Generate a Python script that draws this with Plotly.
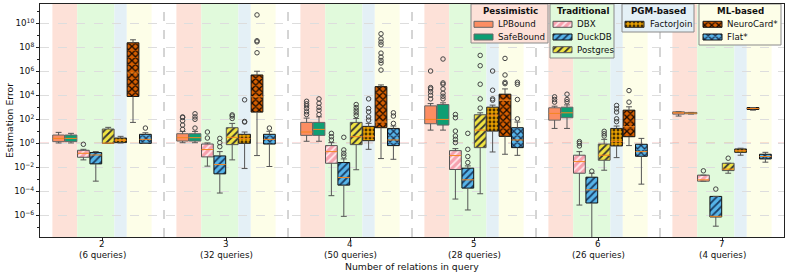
import plotly.graph_objects as go

# ---------------- data (values are log10 of the estimation error) ----------------
GROUPS = [2, 3, 4, 5, 6, 7]
QUERIES = [6, 32, 50, 28, 26, 4]
METHODS = ["LPBound", "SafeBound", "DBX", "DuckDB", "Postgres", "FactorJoin", "NeuroCard*", "Flat*"]
LEGEND_GROUPS = [("Pessimistic", ["LPBound", "SafeBound"]),
                 ("Traditional", ["DBX", "DuckDB", "Postgres"]),
                 ("PGM-based", ["FactorJoin"]),
                 ("ML-based", ["NeuroCard*", "Flat*"])]

LO = {
    "LPBound":    [0.03, 0.05, 0.17, 1.10, 1.24, 2.27],
    "SafeBound":  [0.03, 0.05, 0.17, 1.10, 1.24, 2.44],
    "DBX":        [-1.38, -1.90, -4.36, -4.64, -5.14, -3.15],
    "DuckDB":     [-3.15, -4.14, -6.08, -5.55, -8.40, -6.90],
    "Postgres":   [0.00, -1.38, -2.20, -4.20, -2.24, -2.49],
    "FactorJoin": [0.03, -2.10, -0.50, -0.72, -1.19, -0.99],
    "NeuroCard*": [1.74, -1.02, -1.27, -0.91, -0.19, 2.76],
    "Flat*":      [0.00, -1.93, -1.33, -1.00, -3.40, -1.57],
}
Q1 = {
    "LPBound":    [0.14, 0.19, 0.66, 1.63, 1.93, 2.43],
    "SafeBound":  [0.14, 0.19, 0.66, 1.52, 2.13, 2.46],
    "DBX":        [-1.16, -1.13, -1.66, -2.18, -2.49, -3.15],
    "DuckDB":     [-1.71, -2.54, -3.48, -3.73, -4.97, -6.13],
    "Postgres":   [0.00, -0.11, -0.11, -0.36, -1.41, -2.27],
    "FactorJoin": [0.06, 0.00, 0.22, 1.02, -0.22, -0.75],
    "NeuroCard*": [3.90, 2.60, 1.30, 0.58, 0.55, 2.82],
    "Flat*":      [0.00, -0.06, -0.19, -0.36, -1.08, -1.30],
}
MED = {
    "LPBound":    [0.41, 0.47, 0.94, 1.99, 2.49, 2.54],
    "SafeBound":  [0.41, 0.47, 1.16, 1.99, 2.54, 2.51],
    "DBX":        [-0.83, -0.52, -0.69, -1.02, -1.52, -3.04],
    "DuckDB":     [-0.97, -1.77, -2.85, -3.04, -3.87, -6.08],
    "Postgres":   [0.02, 0.50, 0.55, 1.10, -0.99, -2.15],
    "FactorJoin": [0.25, 0.41, 0.55, 2.35, 0.14, -0.61],
    "NeuroCard*": [5.86, 3.87, 1.77, 3.59, 1.38, 2.90],
    "Flat*":      [0.33, 0.33, 0.28, 0.28, -0.69, -1.10],
}
Q3 = {
    "LPBound":    [0.69, 0.80, 1.74, 3.12, 2.96, 2.62],
    "SafeBound":  [0.69, 0.80, 1.74, 3.23, 3.01, 2.57],
    "DBX":        [-0.58, -0.06, -0.19, -0.61, -0.99, -2.65],
    "DuckDB":     [-0.77, -1.05, -1.60, -2.07, -2.82, -4.42],
    "Postgres":   [1.19, 1.30, 1.74, 2.38, -0.06, -1.66],
    "FactorJoin": [0.44, 0.75, 1.41, 3.01, 1.24, -0.47],
    "NeuroCard*": [8.37, 5.69, 4.72, 4.09, 2.76, 2.98],
    "Flat*":      [0.75, 0.75, 1.24, 1.30, -0.08, -0.91],
}
HI = {
    "LPBound":    [0.91, 0.99, 2.10, 3.31, 3.09, 2.62],
    "SafeBound":  [0.83, 0.99, 2.20, 3.37, 3.20, 2.57],
    "DBX":        [-0.50, 0.03, 0.06, -0.44, -0.69, -2.65],
    "DuckDB":     [-0.69, -0.69, -1.30, -1.88, -2.49, -4.42],
    "Postgres":   [1.33, 1.66, 2.07, 2.54, 0.33, -1.66],
    "FactorJoin": [0.58, 0.94, 1.66, 3.18, 1.44, -0.41],
    "NeuroCard*": [8.62, 6.00, 4.86, 4.53, 3.04, 2.98],
    "Flat*":      [0.88, 1.00, 1.44, 1.77, 0.41, -0.75],
}
OUT = {
    "LPBound":    [[], [1.16, 1.52, 1.88, 2.15, 2.20], [2.40, 2.62, 2.90, 3.12, 3.29, 3.50],
                   [3.70, 4.00, 4.28, 4.53, 4.64, 6.02], [3.43, 3.65, 3.87], []],
    "SafeBound":  [[], [1.27, 2.00, 2.20, 2.46], [2.40, 2.75, 3.00, 3.33, 3.70],
                   [3.70, 3.92, 4.17, 4.53, 4.92, 5.03, 7.02], [3.46, 3.65, 4.09], []],
    "DBX":        [[-0.08], [0.44, 0.94], [0.28, 0.55, 0.83],
                   [0.06, 0.33, 0.61, 1.02, 2.13, 2.40], [-0.22, 0.00, 0.14], [-2.29]],
    "DuckDB":     [[], [-0.28, 0.06, 0.41], [-1.05, -0.83, -0.55, 0.50],
                   [-1.60, -1.10, -0.50, 0.83], [-2.32], [-3.81]],
    "Postgres":   [[], [2.07, 2.27, 2.37], [2.32, 2.54, 2.76, 2.98, 3.23],
                   [2.93, 3.70, 4.92, 6.46, 7.32], [0.61, 0.80, 1.00], [-1.24]],
    "FactorJoin": [[], [1.77, 1.82, 3.62], [1.93, 2.20, 2.62, 2.90, 3.70],
                   [3.59, 3.70, 4.42, 6.02], [1.80, 2.04, 2.60, 2.87, 3.15], []],
    "NeuroCard*": [[], [7.54, 8.45, 8.54, 10.69], [6.10, 6.69, 6.90, 7.18, 7.51, 8.20, 8.43, 8.70, 9.12],
                   [4.97, 5.08, 5.69, 7.07], [3.43, 4.39], []],
    "Flat*":      [[1.27], [1.27], [1.66, 2.27, 2.54], [2.04, 3.65, 4.92, 5.08], [], []],
}
Y_TICK_EXP = [-6, -4, -2, 0, 2, 4, 6, 8, 10]

# ---------------- styles ----------------
W, H = 789, 275
ML_, MR_, MT_, MB_ = 40, 5, 4, 38          # plot area: x 40..784, y 4..237 (screen px)
OFFSETS = [-0.35, -0.25, -0.15, -0.05, 0.05, 0.15, 0.25, 0.35]
BOXW = 0.095
STYLE = {
    "LPBound":    dict(color="#FC8D62", shape="", fg=None, edge="#666666"),
    "SafeBound":  dict(color="#0E9E73", shape="", fg=None, edge="#666666"),
    "DBX":        dict(color="#F7A1AE", shape="/", fg="#FFE6EA", edge="#555555"),
    "DuckDB":     dict(color="#56B4E9", shape="/", fg="#1A3F66", edge="#111111"),
    "Postgres":   dict(color="#F0E442", shape="/", fg="#333333", edge="#555555"),
    "FactorJoin": dict(color="#E69F00", shape=".", fg="#4A3000", edge="#222222"),
    "NeuroCard*": dict(color="#D55E00", shape="x", fg="#1A0A00", edge="#111111"),
    "Flat*":      dict(color="#56B4E9", shape="x", fg="#1A3050", edge="#111111"),
}
BAND_COLORS = ["#FDE1D8", "#E1FADC", "#E4F0F6", "#FDFEE8"]
BANDS = [(-0.4, -0.2), (-0.2, 0.1), (0.1, 0.2), (0.2, 0.4)]
FONT = "DejaVu Sans"
TICKFS, TITLEFS = 8.7, 9.3


def pattern_for(st):
    if not st["shape"]:
        return dict(shape="")
    sol = {"/": 0.35, ".": 0.4, "x": 0.45}[st["shape"]]
    return dict(shape=st["shape"], fgcolor=st["fg"], bgcolor=st["color"], fillmode="replace",
                size=4 if st["shape"] == "." else 5, solidity=sol)


fig = go.Figure()

for m, off in zip(METHODS, OFFSETS):
    st = STYLE[m]
    xs = [g + off for g in GROUPS]
    q1v = [10 ** v for v in Q1[m]]
    q3v = [10 ** v for v in Q3[m]]
    fig.add_trace(go.Bar(
        x=xs, y=[b - a for a, b in zip(q1v, q3v)], base=q1v, width=BOXW,
        marker=dict(color=st["color"], line=dict(color=st["edge"], width=1), pattern=pattern_for(st)),
        name=m, showlegend=False, hoverinfo="skip"))

    wx, wy = [], []
    cap = BOXW / 4
    for x, lo, a, b, hi in zip(xs, LO[m], Q1[m], Q3[m], HI[m]):
        wx += [x, x, None, x, x, None, x - cap, x + cap, None, x - cap, x + cap, None]
        wy += [10 ** lo, 10 ** a, None, 10 ** b, 10 ** hi, None, 10 ** lo, 10 ** lo, None, 10 ** hi, 10 ** hi, None]
    fig.add_trace(go.Scatter(x=wx, y=wy, mode="lines", line=dict(color="#555555", width=1),
                             showlegend=False, hoverinfo="skip"))
    mx, my = [], []
    for x, md in zip(xs, MED[m]):
        mx += [x - BOXW / 2, x + BOXW / 2, None]
        my += [10 ** md, 10 ** md, None]
    fig.add_trace(go.Scatter(x=mx, y=my, mode="lines", line=dict(color="#F5861F", width=1),
                             showlegend=False, hoverinfo="skip"))
    ox, oy = [], []
    for x, outs in zip(xs, OUT[m]):
        for o in outs:
            ox.append(x)
            oy.append(10 ** o)
    fig.add_trace(go.Scatter(x=ox, y=oy, mode="markers",
                             marker=dict(symbol="circle-open", size=4.5, color="#444444", line=dict(width=1)),
                             showlegend=False, hoverinfo="skip"))

# ---------------- hand-built grouped legends (overlay axes in screen pixels) ----------------
LEG_BOXES = [  # x0, x1, y0, y1, title centre x, swatch x0, swatch x1, text x
    (471, 548, 4, 43, 510, 474, 493, 496),
    (550, 614, 4, 58, 583, 553, 572, 575),
    (622, 694, 4, 32, 658, 625, 644, 648),
    (699, 781, 4, 45, 740, 703, 722, 725),
]
annotations = []
for (title, members), bc, (x0, x1, y0, y1, tcx, sx0, sx1, tx) in zip(LEGEND_GROUPS, BAND_COLORS, LEG_BOXES):
    fig.add_trace(go.Bar(x=[(x0 + x1) / 2], y=[y1 - y0], base=[y0], width=[x1 - x0],
                         xaxis="x2", yaxis="y2", showlegend=False, hoverinfo="skip",
                         marker=dict(color=bc, line=dict(color="#8A8A8A", width=1))))
    annotations.append(dict(x=tcx, y=11.3, xref="x2", yref="y2", text=f"<b>{title}</b>", showarrow=False,
                            font=dict(family=FONT, size=TICKFS, color="#111"), xanchor="center", yanchor="middle"))
    for i, m in enumerate(members):
        yc = 24.3 + 12.7 * i
        st = STYLE[m]
        fig.add_trace(go.Bar(x=[(sx0 + sx1) / 2], y=[6], base=[yc - 3], width=[sx1 - sx0],
                             xaxis="x2", yaxis="y2", showlegend=False, hoverinfo="skip",
                             marker=dict(color=st["color"], line=dict(color=st["edge"], width=1),
                                         pattern=pattern_for(st))))
        annotations.append(dict(x=tx, y=yc, xref="x2", yref="y2", text=m, showarrow=False,
                                font=dict(family=FONT, size=TICKFS, color="#111"), xanchor="left", yanchor="middle"))

# ---------------- axis labels placed in screen pixels ----------------
def paper_y(sy):
    return (H - MB_ - sy) / (H - MB_ - MT_)

def paper_x(sx):
    return (sx - ML_) / (W - ML_ - MR_)

for g, q in zip(GROUPS, QUERIES):
    annotations.append(dict(x=g, y=paper_y(244.3), xref="x", yref="paper", text=str(g), showarrow=False,
                            font=dict(family=FONT, size=TICKFS, color="#111"), yanchor="middle"))
    annotations.append(dict(x=g, y=paper_y(254.6), xref="x", yref="paper", text=f"({q} queries)", showarrow=False,
                            font=dict(family=FONT, size=TICKFS, color="#111"), yanchor="middle"))
annotations.append(dict(x=0.5, y=paper_y(266.0), xref="paper", yref="paper", text="Number of relations in query",
                        showarrow=False, font=dict(family=FONT, size=TITLEFS, color="#111"), yanchor="middle"))
annotations.append(dict(x=paper_x(9.5), y=0.5, xref="paper", yref="paper", text="Estimation Error", textangle=-90,
                        showarrow=False, font=dict(family=FONT, size=TITLEFS, color="#111"),
                        xanchor="center", yanchor="middle"))

shapes = []
for g in GROUPS:
    for (a, b), c in zip(BANDS, BAND_COLORS):
        shapes.append(dict(type="rect", xref="x", yref="paper", x0=g + a, x1=g + b, y0=0, y1=1,
                           fillcolor=c, line=dict(width=0), layer="below"))
for g in GROUPS[:-1]:
    shapes.append(dict(type="line", xref="x", yref="paper", x0=g + 0.5, x1=g + 0.5, y0=0, y1=1,
                       line=dict(color="#AAAAAA", width=1, dash="dash"), layer="between"))
shapes.append(dict(type="line", xref="paper", yref="y", x0=0, x1=1, y0=1, y1=1,
                   line=dict(color="rgba(220,40,40,0.75)", width=1, dash="dash"), layer="between"))

fig.update_layout(
    width=W, height=H,
    margin=dict(l=ML_, r=MR_, t=MT_, b=MB_, autoexpand=False),
    paper_bgcolor="white", plot_bgcolor="white",
    barmode="overlay", showlegend=False,
    font=dict(family=FONT, size=TICKFS, color="#111"),
    shapes=shapes, annotations=annotations,
    xaxis=dict(
        range=[1.5, 7.5], tickmode="array", tickvals=GROUPS, showticklabels=False, automargin=False,
        showgrid=False, zeroline=False, showline=True, mirror=True, linecolor="#222", linewidth=1,
        ticks="outside", ticklen=3, tickcolor="#222",
    ),
    yaxis=dict(
        type="log", range=[-7.8, 11.6], tickmode="array", automargin=False,
        tickvals=[10 ** e for e in Y_TICK_EXP],
        ticktext=[f"10<sup>{str(e).replace('-', '−')}</sup>" for e in Y_TICK_EXP],
        tickfont=dict(family=FONT, size=TICKFS, color="#111"),
        showgrid=True, gridcolor="#DDDDDD", griddash="dash", gridwidth=1,
        zeroline=False, showline=True, mirror=True, linecolor="#222", linewidth=1,
        ticks="outside", ticklen=3, tickcolor="#222",
        minor=dict(tickvals=[10 ** e for e in range(-7, 12, 2)], ticks="outside", ticklen=2, showgrid=False),
    ),
    xaxis2=dict(overlaying="x", range=[ML_, W - MR_], visible=False, fixedrange=True, automargin=False),
    yaxis2=dict(overlaying="y", range=[H - MB_, MT_], visible=False, fixedrange=True, automargin=False),
)

# the page's default 8px body margin would shift the 789x275 figure out of the window
fig.write_html("out.html", config={"displayModeBar": False, "staticPlot": True},
               post_script="document.body.style.margin='0';document.body.style.overflow='hidden';")
